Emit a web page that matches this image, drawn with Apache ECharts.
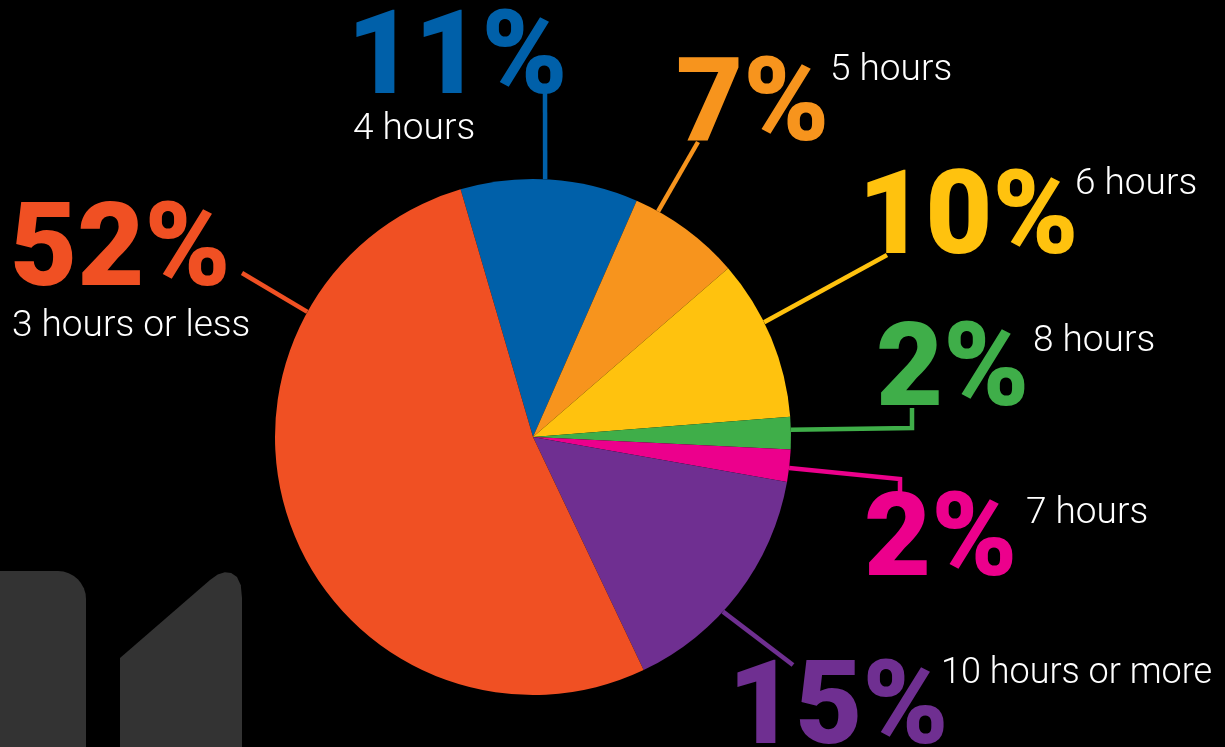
<!DOCTYPE html>
<html>
<head>
<meta charset="utf-8">
<style>
  html, body { margin: 0; padding: 0; background: #000; }
  #chart { width: 1225px; height: 747px; }
</style>
<script src="https://cdn.jsdelivr.net/npm/echarts@6/dist/echarts.min.js"></script>
</head>
<body>
<div id="chart"></div>
<script>
// Hours per day, share of respondents (%)
const categories = ['4 hours', '5 hours', '6 hours', '8 hours', '7 hours', '10 hours or more', '3 hours or less'];
const shares = [11, 7, 10, 2, 2, 15, 52];
const sliceColors = ['#0060a9', '#f7941d', '#ffc20e', '#3fae49', '#ec008c', '#6f2f91', '#f05023'];

// Pie geometry (pixels)
const pieCenter = [533, 437];
const pieRadius = 258;
const pieStart = 106.3;

// Label placement: [left x, cap top y]
const pctFont = 116;
const pctPos = [[347, 15], [676, 62], [858, 175], [876, 327], [864, 497], [728, 665], [10, 207]];
const catFont = [37, 37, 37, 37, 37, 36, 37];
const catPos = [[353, 114], [830, 55], [1075, 169], [1033, 326], [1026, 498], [941, 659], [12, 311]];

// Leader lines: angle on the rim (deg clockwise from 12 o'clock), then route to the label
const leaderAngle = [2.7, 29, 63.6, 88.4, 96.9, 132.6, 299];
const leaderRoute = [
  [[545, 93]],
  [[698, 142]],
  [[887, 255]],
  [[912, 428], [912, 408]],
  [[900, 479], [900, 497]],
  [[793, 665]],
  [[242, 273]]
];

function rimPoint(deg) {
  const a = deg * Math.PI / 180;
  return [pieCenter[0] + pieRadius * Math.sin(a), pieCenter[1] - pieRadius * Math.cos(a)];
}
function leaderPoints(i) {
  const pts = [rimPoint(leaderAngle[i])].concat(leaderRoute[i]);
  while (pts.length < 3) pts.push(pts[pts.length - 1]);
  return pts;
}

const pieData = categories.map((name, i) => ({
  name: name,
  value: shares[i],
  itemStyle: { color: sliceColors[i] },
  label: { color: sliceColors[i] },
  labelLine: { lineStyle: { color: sliceColors[i] } }
}));

const nameData = categories.map((name, i) => ({
  name: name,
  value: shares[i],
  label: { fontSize: catFont[i], lineHeight: catFont[i] }
}));

const chart = echarts.init(document.getElementById('chart'), null, { renderer: 'canvas' });

chart.setOption({
  backgroundColor: '#000000',
  animation: false,
  graphic: [
    {
      type: 'rect',
      shape: { x: 0, y: 571, width: 86, height: 200, r: [0, 28, 0, 0] },
      style: { fill: '#333333' },
      silent: true, z: 0
    },
    {
      type: 'polygon',
      shape: {
        points: [[120, 760], [120, 658], [210, 580], [217.7, 574.6], [224.8, 572.3], [231.2, 573.1],
                 [237, 577], [240.8, 585.3], [242, 598], [242, 760]]
      },
      style: { fill: '#333333' },
      silent: true, z: 0
    }
  ],
  series: [
    {
      type: 'pie',
      center: pieCenter,
      radius: [0, pieRadius],
      startAngle: pieStart,
      clockwise: true,
      avoidLabelOverlap: false,
      emphasis: { disabled: true },
      itemStyle: { borderWidth: 0 },
      label: {
        show: true,
        position: 'outside',
        formatter: p => p.value + '%',
        fontFamily: 'Roboto',
        fontWeight: 900,
        fontSize: pctFont,
        lineHeight: pctFont
      },
      labelLine: { show: true, length: 10, length2: 10, smooth: false, lineStyle: { width: 4.5 } },
      labelLayout: params => {
        const i = params.dataIndex;
        return {
          x: pctPos[i][0],
          y: pctPos[i][1] - 0.081 * pctFont,
          align: 'left',
          verticalAlign: 'top',
          labelLinePoints: leaderPoints(i)
        };
      },
      data: pieData,
      z: 2
    },
    {
      type: 'pie',
      center: pieCenter,
      radius: [0, pieRadius],
      startAngle: pieStart,
      clockwise: true,
      silent: true,
      avoidLabelOverlap: false,
      emphasis: { disabled: true },
      itemStyle: { color: 'rgba(0,0,0,0)', borderWidth: 0 },
      label: {
        show: true,
        position: 'outside',
        formatter: '{b}',
        color: '#ffffff',
        fontFamily: 'Roboto',
        fontWeight: 300
      },
      labelLine: { show: false },
      labelLayout: params => {
        const i = params.dataIndex;
        return {
          x: catPos[i][0],
          y: catPos[i][1] - 0.081 * catFont[i],
          align: 'left',
          verticalAlign: 'top'
        };
      },
      data: nameData,
      z: 3
    }
  ]
});
</script>
</body>
</html>
